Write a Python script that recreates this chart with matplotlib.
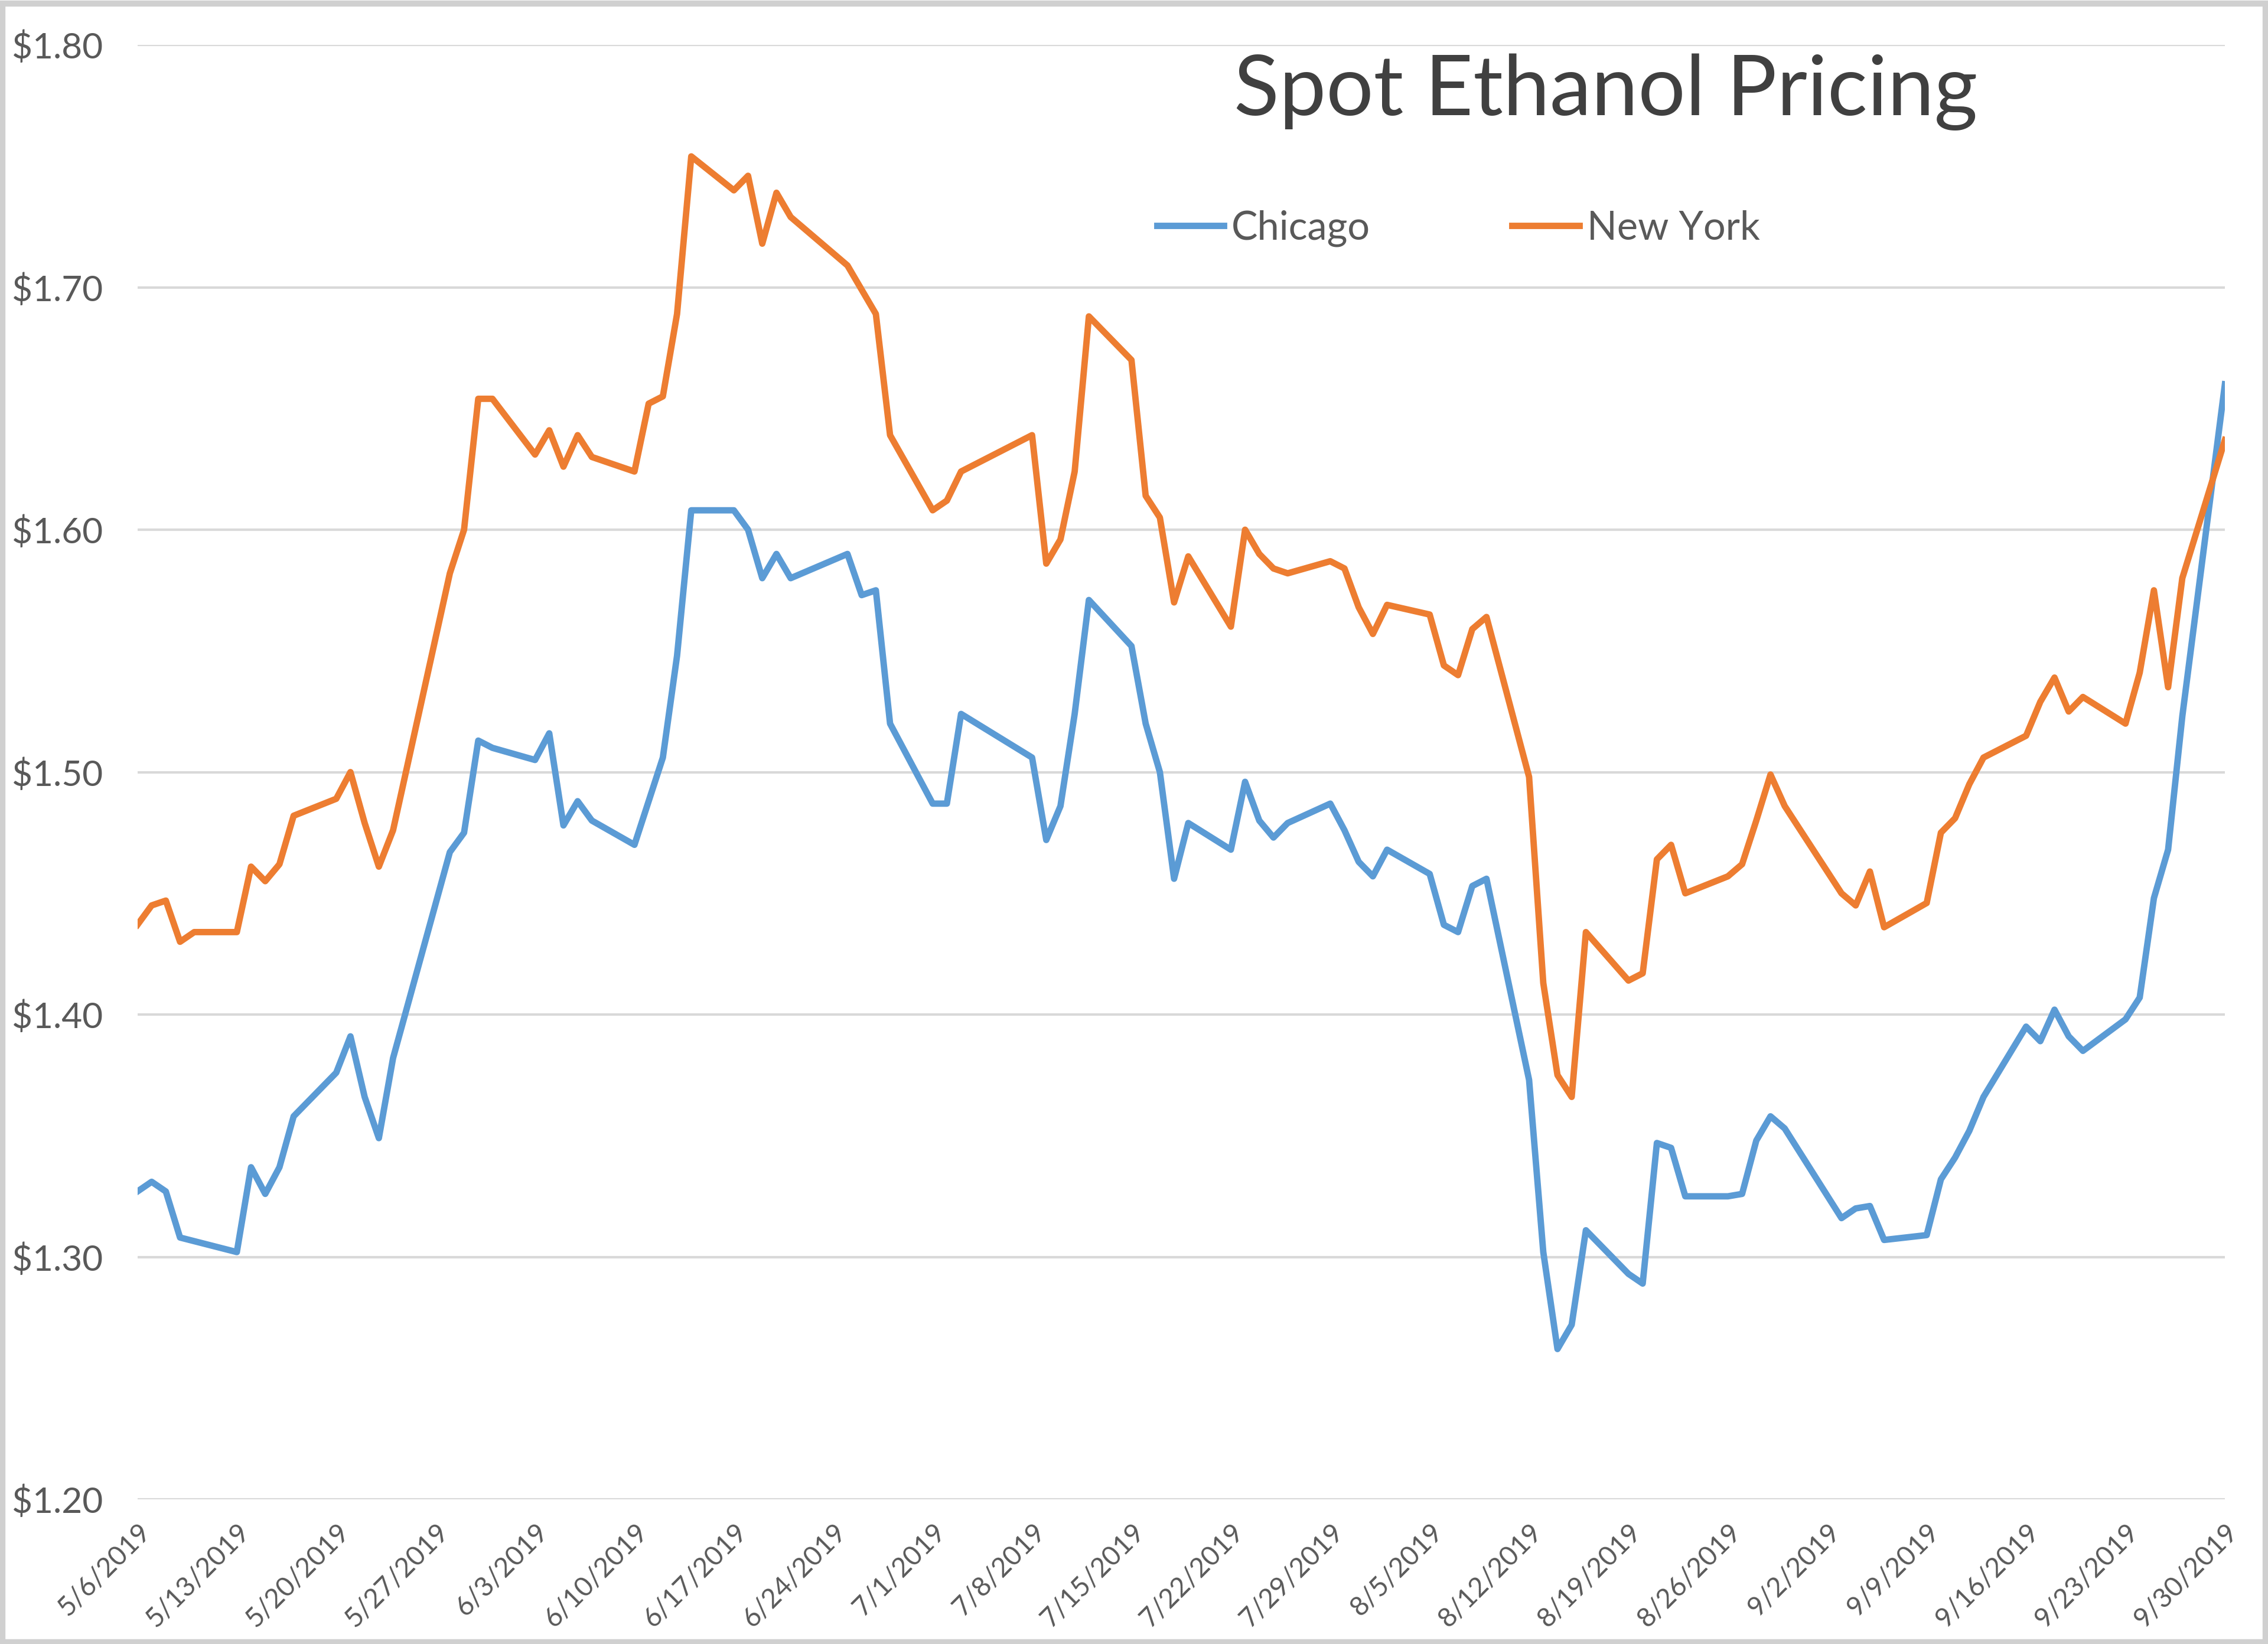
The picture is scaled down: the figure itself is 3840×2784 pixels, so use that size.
import numpy as np
import pandas as pd
import matplotlib
matplotlib.use("Agg")
import matplotlib.pyplot as plt

plt.rcParams['font.family'] = ['Lato', 'DejaVu Sans']

# business days with quotes (mm/dd, 2019)
dates = ["5/6", "5/7", "5/8", "5/9", "5/10", "5/13", "5/14", "5/15", "5/16", "5/17",
         "5/20", "5/21", "5/22", "5/23", "5/24", "5/28", "5/29", "5/30", "5/31",
         "6/3", "6/4", "6/5", "6/6", "6/7", "6/10", "6/11", "6/12", "6/13", "6/14",
         "6/17", "6/18", "6/19", "6/20", "6/21", "6/25", "6/26", "6/27", "6/28",
         "7/1", "7/2", "7/3", "7/8", "7/9", "7/10", "7/11", "7/12",
         "7/15", "7/16", "7/17", "7/18", "7/19", "7/22", "7/23", "7/24", "7/25", "7/26",
         "7/29", "7/30", "7/31", "8/1", "8/2", "8/5", "8/6", "8/7", "8/8", "8/9",
         "8/12", "8/13", "8/14", "8/15", "8/16", "8/19", "8/20", "8/21", "8/22", "8/23",
         "8/26", "8/27", "8/28", "8/29", "8/30", "9/3", "9/4", "9/5", "9/6",
         "9/9", "9/10", "9/11", "9/12", "9/13", "9/16", "9/17", "9/18", "9/19", "9/20",
         "9/23", "9/24", "9/25", "9/26", "9/27", "9/30"]

chicago = [1.327, 1.331, 1.327, 1.308, np.nan, 1.302, 1.337, 1.326, 1.337, 1.358,
           1.376, 1.391, 1.366, 1.349, 1.382, 1.467, 1.475, 1.513, 1.510,
           1.505, 1.516, 1.478, 1.488, 1.480, 1.470, np.nan, 1.506, 1.548, 1.608,
           1.608, 1.600, 1.580, 1.590, 1.580, 1.590, 1.573, 1.575, 1.520,
           1.487, 1.487, 1.524, 1.506, 1.472, 1.486, 1.524, 1.571,
           1.552, 1.520, 1.500, 1.456, 1.479, 1.468, 1.496, 1.480, 1.473, 1.479,
           1.487, 1.476, 1.463, 1.457, 1.468, 1.458, 1.437, 1.434, 1.453, 1.456,
           1.373, 1.302, 1.262, 1.272, 1.311, 1.293, 1.289, 1.347, 1.345, 1.325,
           1.325, 1.326, 1.348, 1.358, 1.353, 1.316, 1.320, 1.321, 1.307,
           1.309, 1.332, 1.341, 1.352, 1.366, 1.395, 1.389, 1.402, 1.391, 1.385,
           1.398, 1.407, 1.448, 1.468, 1.523, 1.660]

new_york = [1.437, 1.445, 1.447, 1.430, 1.434, 1.434, 1.461, 1.455, 1.462, 1.482,
            1.489, 1.500, 1.479, 1.461, 1.476, 1.582, 1.600, 1.654, 1.654,
            1.631, 1.641, 1.626, 1.639, 1.630, 1.624, 1.652, 1.655, 1.689, 1.754,
            1.740, 1.746, 1.718, 1.739, 1.729, 1.709, np.nan, 1.689, 1.639,
            1.608, 1.612, 1.624, 1.639, 1.586, 1.596, 1.624, 1.688,
            1.670, 1.614, 1.605, 1.570, 1.589, 1.560, 1.600, 1.590, 1.584, 1.582,
            1.587, 1.584, 1.568, 1.557, 1.569, 1.565, 1.544, 1.540, 1.559, 1.564,
            1.498, 1.413, 1.375, 1.366, 1.434, 1.414, 1.417, 1.464, 1.470, 1.450,
            1.457, 1.462, 1.480, 1.499, 1.486, 1.450, 1.445, 1.459, 1.436,
            1.446, 1.475, 1.481, 1.495, 1.506, 1.515, 1.529, 1.539, 1.525, 1.531,
            1.520, 1.541, 1.575, 1.535, 1.580, 1.637]

df = pd.DataFrame({"Chicago": chicago, "New York": new_york},
                  index=pd.to_datetime([d + "/2019" for d in dates], format="%m/%d/%Y"))

blue = "#5B9BD5"
orange = "#ED7D31"
grey_txt = "#595959"

fig = plt.figure(figsize=(12.8, 9.28), dpi=300)
ax = fig.add_axes([0.0606, 0.088, 0.9204, 0.8847])

for col, c in [("Chicago", blue), ("New York", orange)]:
    s = df[col].dropna()
    ax.plot(s.index, s.values, color=c, lw=2.6, label=col, solid_joinstyle='round')

ax.set_ylim(1.20, 1.80)
yt = np.arange(1.20, 1.801, 0.10)
ax.set_yticks(yt)
ax.set_yticklabels(["${:.2f}".format(v) for v in yt])

ticks = pd.date_range("2019-05-06", "2019-09-30", freq="7D")
ax.set_xlim(ticks[0], ticks[-1])
ax.set_xticks(ticks)
ax.set_xticklabels([f"{t.month}/{t.day}/{t.year}" for t in ticks],
                   rotation=45, ha='right', rotation_mode='anchor')

ax.grid(axis='y', color='#D9D9D9', lw=1.0)
ax.set_axisbelow(True)
for sp in ax.spines.values():
    sp.set_visible(False)
ax.tick_params(axis='y', length=0, pad=14, labelsize=14.5, labelcolor=grey_txt)
ax.tick_params(axis='x', length=0, pad=8, labelsize=11, labelcolor=grey_txt)

fig.text(0.708, 0.944, "Spot Ethanol Pricing", ha='center', va='center',
         fontsize=34, color='#404040')

fig.legend(loc='center', bbox_to_anchor=(0.643, 0.861), ncol=2, frameon=False,
           fontsize=16, labelcolor=grey_txt, handlelength=1.7, handletextpad=0.2,
           columnspacing=3.6)

# thin frame round the picture
fig.patches.append(plt.Rectangle((0.001, 0.001), 0.998, 0.997, transform=fig.transFigure,
                                 fill=False, edgecolor='#D0D0D0', lw=2.5))

fig.savefig("out.png", dpi=300, facecolor='white')
